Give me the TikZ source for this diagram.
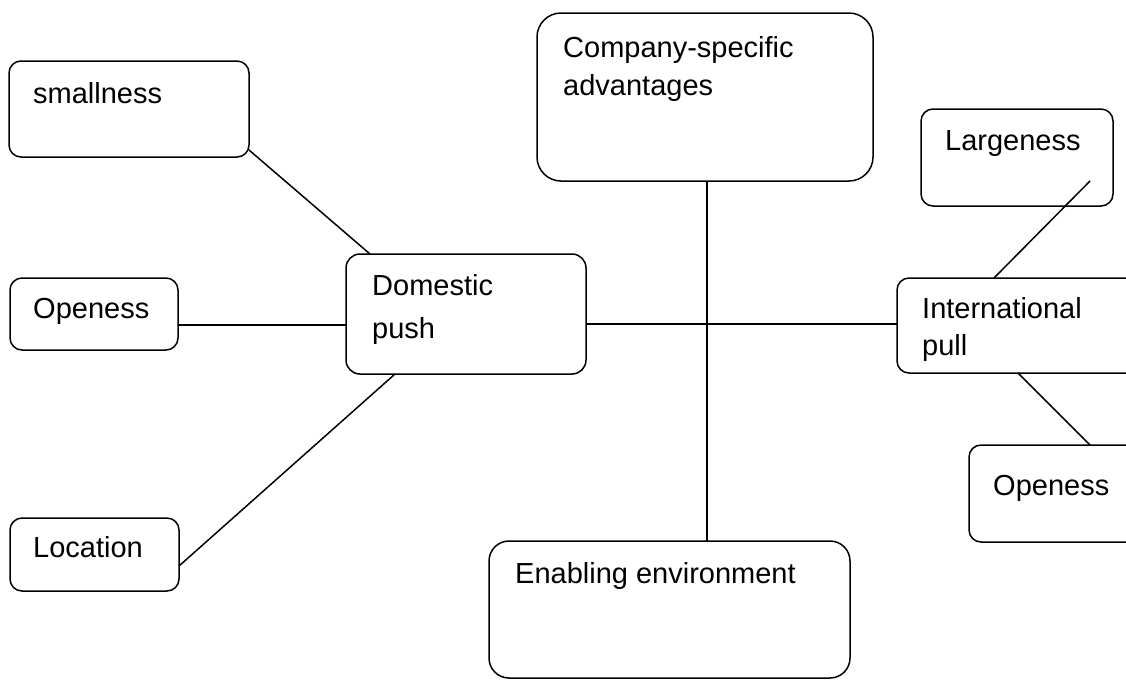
\documentclass[tikz,border=0pt]{standalone}
\usepackage{fontspec}
\setmainfont{Liberation Sans}
\usetikzlibrary{calc}
\begin{document}
\begin{tikzpicture}[x=1pt,y=-1pt,
  box/.style={draw,line width=1.5pt,rectangle,rounded corners=12pt,inner sep=0pt,outer sep=0pt},
  lbl/.style={anchor=base west,inner sep=0pt,font=\fontsize{29}{36}\selectfont},
  conn/.style={line width=1.5pt}]
\useasboundingbox (0,0) rectangle (1126,681);
\clip (0,0) rectangle (1126,681);
\node[box,minimum width=240pt,minimum height=96pt] (small) at (129,109) {};
\node[box,minimum width=168pt,minimum height=72pt] (open1) at (94,314) {};
\node[box,minimum width=169pt,minimum height=73pt] (loc) at (94.5,554.5) {};
\node[box,minimum width=240pt,minimum height=120pt,rounded corners=14pt] (dom) at (466,314) {};
\node[box,minimum width=336pt,minimum height=168pt,rounded corners=24pt] (comp) at (705,97) {};
\node[box,minimum width=361pt,minimum height=137pt,rounded corners=20pt] (enab) at (669.5,609.5) {};
\node[box,minimum width=192pt,minimum height=97pt] (large) at (1017,157.5) {};
\node[box,minimum width=243pt,minimum height=95pt] (intl) at (1018.5,325.5) {};
\node[box,minimum width=171pt,minimum height=97pt] (open2) at (1054.5,493.5) {};

\node[lbl] (smallT) at (33,103) {smallness};
\node[lbl] (open1T) at (33,318) {Openess};
\node[lbl] (locT) at (33,557) {Location};
\node[lbl] (domT1) at (372,295) {Domestic};
\node[lbl] (domT2) at (372,338) {push};
\node[lbl] (compT1) at (563,57) {Company-specific};
\node[lbl] (compT2) at (563,95) {advantages};
\node[lbl] (enabT) at (515,583) {Enabling environment};
\node[lbl] (largeT) at (945,150) {Largeness};
\node[lbl] (intlT1) at (922,318) {International};
\node[lbl] (intlT2) at (922,355) {pull};
\node[lbl] (open2T) at (993,495) {Openess};

\coordinate (lfree) at ($(large.center)+(73,23.5)$);
\draw[conn] ($(small.south east)+(0,-7)$) -- ($(dom.north west)+(24,0)$);
\draw[conn] ($(open1.east)+(0,11)$) -- ($(dom.west)+(0,11)$);
\draw[conn] ($(loc.east)+(0,11.5)$) -- ($(dom.south west)+(49,0)$);
\draw[conn] ($(dom.east)+(0,10)$) coordinate (h) -- (h -| intl.west);
\draw[conn] ($(comp.south)+(2,0)$) coordinate (v) -- (v |- enab.north);
\draw[conn] (lfree) -- ($(intl.north west)+(97,0)$);
\draw[conn] ($(intl.south west)+(121,0)$) -- ($(open2.north west)+(121,0)$);
\end{tikzpicture}
\end{document}
